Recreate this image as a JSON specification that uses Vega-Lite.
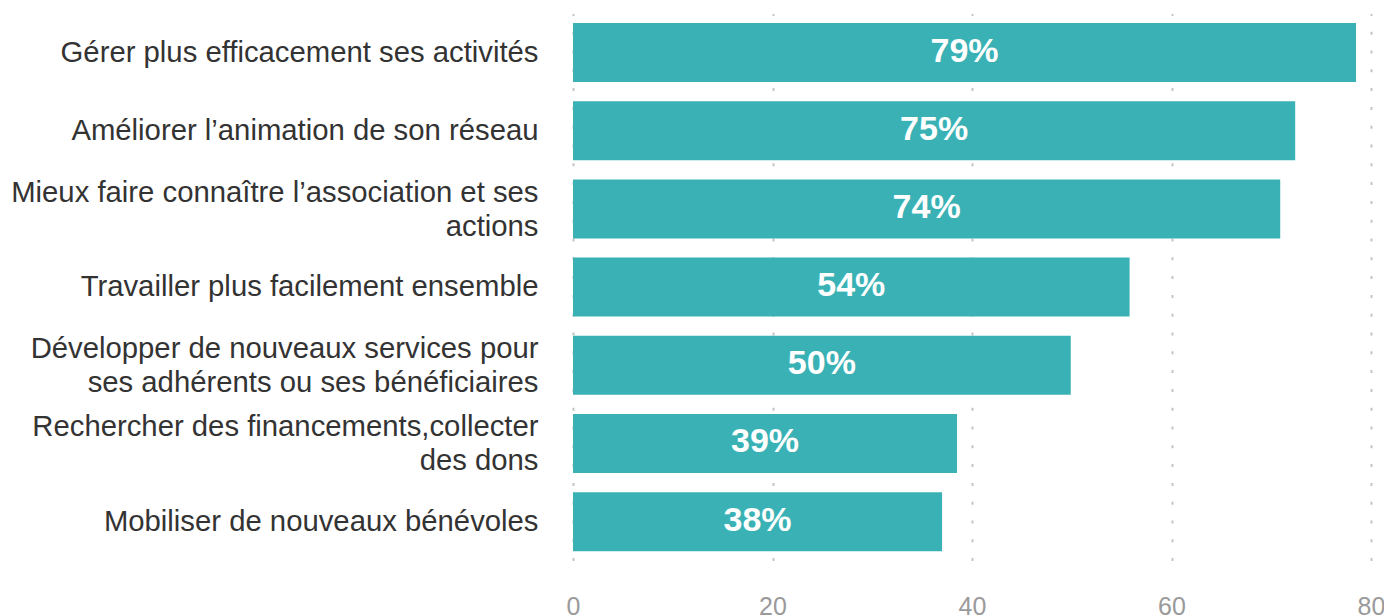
{
  "$schema": "https://vega.github.io/schema/vega-lite/v6.json",
  "width": 798,
  "height": 547,
  "autosize": "none",
  "padding": {"left": 573, "top": 13.6, "right": 13, "bottom": 55},
  "background": "white",
  "config": {"view": {"stroke": null}, "font": "Liberation Sans"},
  "data": {
    "values": [
      {"cat": "Gérer plus efficacement ses activités", "value": 78.5, "label": "79%"},
      {"cat": "Améliorer l’animation de son réseau", "value": 72.4, "label": "75%"},
      {"cat": "Mieux faire connaître l’association et ses\nactions", "value": 70.9, "label": "74%"},
      {"cat": "Travailler plus facilement ensemble", "value": 55.8, "label": "54%"},
      {"cat": "Développer de nouveaux services pour\nses adhérents ou ses bénéficiaires", "value": 49.9, "label": "50%"},
      {"cat": "Rechercher des financements,collecter\ndes dons", "value": 38.5, "label": "39%"},
      {"cat": "Mobiliser de nouveaux bénévoles", "value": 37.0, "label": "38%"}
    ]
  },
  "encoding": {
    "y": {
      "field": "cat",
      "type": "nominal",
      "sort": null,
      "scale": {"paddingInner": 0.245, "paddingOuter": 0.12},
      "axis": {
        "title": null,
        "domain": false,
        "ticks": false,
        "labelExpr": "split(datum.value, '\\n')",
        "labelFontSize": 29.3,
        "labelColor": "#333333",
        "labelPadding": 35,
        "labelLineHeight": 34,
        "labelLimit": 600,
        "labelOffset": {"condition": {"test": "indexof(datum.value, '\\n') >= 0", "value": -16}, "value": 0}
      }
    }
  },
  "layer": [
    {
      "mark": {"type": "bar", "color": "#3AB2B5"},
      "encoding": {
        "x": {
          "field": "value",
          "type": "quantitative",
          "scale": {"domain": [0, 80], "nice": false},
          "axis": {
            "title": null,
            "values": [0, 20, 40, 60, 80],
            "domain": false,
            "ticks": false,
            "labelFontSize": 25,
            "labelColor": "#9a9a9a",
            "labelPadding": 34,
            "labelFlush": false,
            "grid": true,
            "gridColor": "#c4c4c4",
            "gridWidth": 2,
            "gridDash": [3, 15.8]
          }
        }
      }
    },
    {
      "transform": [{"calculate": "datum.value / 2", "as": "mid"}],
      "mark": {"type": "text", "color": "white", "fontWeight": "bold", "fontSize": 34, "align": "center", "baseline": "middle", "dy": -1},
      "encoding": {
        "x": {"field": "mid", "type": "quantitative"},
        "text": {"field": "label"}
      }
    }
  ]
}
